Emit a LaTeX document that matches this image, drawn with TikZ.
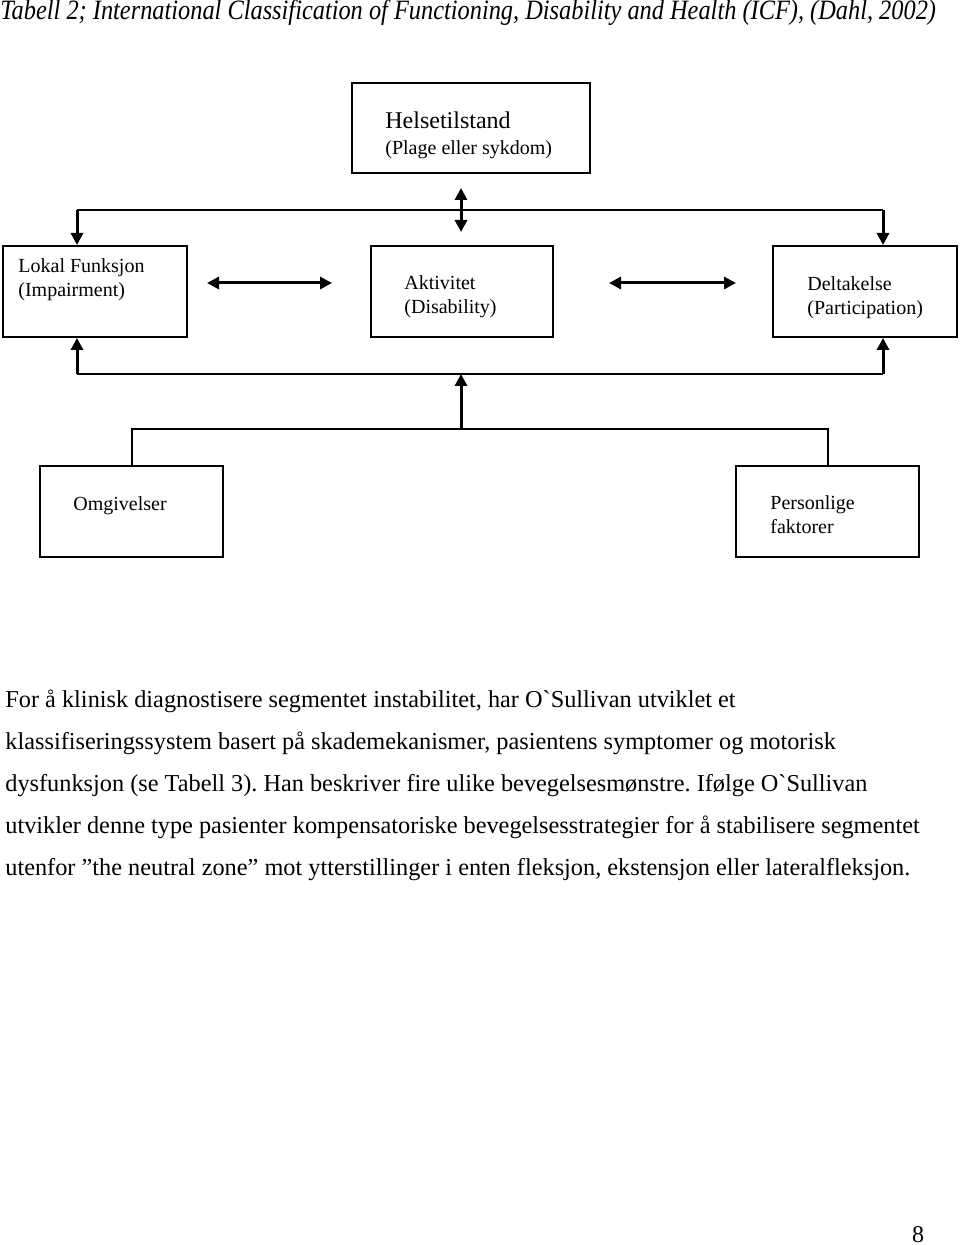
\documentclass[tikz,border=0pt]{standalone}
\usepackage{fontspec}
\setmainfont{Liberation Serif}
\newfontfamily\bodyfont{Liberation Serif}
\newfontfamily\titlefont[FakeStretch=0.87]{Liberation Serif}
\usetikzlibrary{positioning,arrows.meta}
\frenchspacing

\tikzset{
  icfbox/.style={draw, line width=1pt, minimum width=92pt, minimum height=45.5pt, inner sep=0pt},
  boxtext/.style={anchor=base west, align=left, inner sep=0pt, font=\bodyfont\fontsize{10}{12}\selectfont},
  conn/.style={line width=1pt},
  arr/.style={-{Triangle[length=6pt,width=6pt]}, line width=1.5pt},
  darr/.style={{Triangle[length=6pt,width=6pt]}-{Triangle[length=6pt,width=6pt]}, line width=1.5pt}
}

\begin{document}
\begin{tikzpicture}[x=1pt,y=-1pt]
                \useasboundingbox (0,0) rectangle (480,622.5);

                \node[anchor=base west, inner sep=0pt, font=\titlefont\itshape\fontsize{14}{16}\selectfont] (title) at (0,10)
                  {Tabell 2; International Classification of Functioning, Disability and Health (ICF), (Dahl, 2002)};

                \node[icfbox, minimum width=119pt, minimum height=45pt] (helse) at (235.5,64) {};
                \node[icfbox] (lokal)      at (47.5,145.75)  {};
                \node[icfbox, minimum width=91pt] (aktivitet)  at (231,145.75)   {};
                \node[icfbox] (deltakelse) at (432.5,145.75) {};
                \node[icfbox, minimum width=91.5pt] (omgiv)     at (65.75,255.75)  {};
                \node[icfbox, minimum width=91.5pt] (personlig) at (413.75,255.75) {};

                % multi-line texts sit on the baseline of their last line
                \node[boxtext, font=\bodyfont\fontsize{12}{13}\selectfont] (helsetxt) at (192.5,77.5)
                  {Helsetilstand\\{\fontsize{10}{12}\selectfont (Plage eller sykdom)}};
                \node[boxtext] (lokaltxt)   at (9,148.3)    {Lokal Funksjon\\(Impairment)};
                \node[boxtext] (akttxt)     at (202,157)    {Aktivitet\\(Disability)};
                \node[boxtext] (deltxt)     at (403.5,157.3){Deltakelse\\(Participation)};
                \node[boxtext] (omgivtxt)   at (36.5,255)   {Omgivelser};
                \node[boxtext] (perstxt)    at (385,266.5)  {Personlige\\faktorer};

                \coordinate (topl) at (38.5,105);
                \coordinate (topr) at (441.5,105);
                \coordinate (dtop) at (230.5,94);
                \coordinate (dbot) at (230.5,116);
                \coordinate (botl) at (38.5,187);
                \coordinate (botr) at (441.5,187);
                \coordinate (envc) at (230.5,214.5);

                \draw[conn] (topl) -- (topr);
                \draw[arr]  (topl) -- (topl |- lokal.north);
                \draw[arr]  (topr) -- (topr |- deltakelse.north);
                \draw[darr] (dtop) -- (dbot);

                \draw[darr] ([xshift=9.5pt,yshift=4.25pt]lokal.east) -- ([xshift=-19pt,yshift=4.25pt]aktivitet.west);
                \draw[darr] ([xshift=27.5pt,yshift=4.25pt]aktivitet.east) -- ([xshift=-18pt,yshift=4.25pt]deltakelse.west);

                \draw[conn] (botl) -- (botr);
                \draw[arr]  (botl) -- (botl |- lokal.south);
                \draw[arr]  (botr) -- (botr |- deltakelse.south);
                \draw[arr]  (envc) -- (envc |- botl);
                \draw[conn] (omgiv.north) |- (envc) -| (personlig.north);

                \node[anchor=base west, align=left, inner sep=0pt, font=\bodyfont\fontsize{12.15}{21}\selectfont] (para) at (2.5,437.5)
                  {For å klinisk diagnostisere segmentet instabilitet, har O`Sullivan utviklet et\\
                   klassifiseringssystem basert på skademekanismer, pasientens symptomer og motorisk\\
                   dysfunksjon (se Tabell 3). Han beskriver fire ulike bevegelsesmønstre. Ifølge O`Sullivan\\
                   utvikler denne type pasienter kompensatoriske bevegelsesstrategier for å stabilisere segmentet\\
                   utenfor ”the neutral zone” mot ytterstillinger i enten fleksjon, ekstensjon eller lateralfleksjon.};

                \node[anchor=base, inner sep=0pt, font=\bodyfont\fontsize{12}{14}\selectfont] (pagenum) at (459,621) {8};
\end{tikzpicture}
\end{document}
